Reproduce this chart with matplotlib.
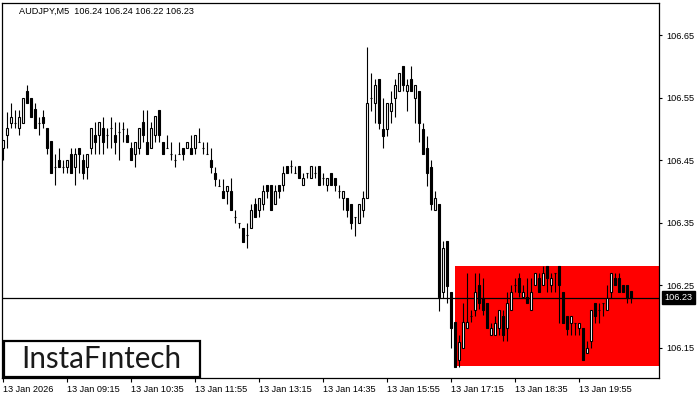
import matplotlib
matplotlib.use("Agg")
import matplotlib.pyplot as plt
from matplotlib.patches import Rectangle
import numpy as np

# ---------------- data ----------------
opens = [106.470, 106.490, 106.510, 106.510, 106.501, 106.510, 106.561, 106.550, 106.531, 106.510,
         106.519, 106.501, 106.481, 106.439, 106.450, 106.439, 106.439, 106.460, 106.439, 106.470,
         106.450, 106.439, 106.470, 106.490, 106.490, 106.501, 106.490, 106.501, 106.490, 106.495,
         106.500, 106.490, 106.470, 106.460, 106.470, 106.511, 106.479, 106.470, 106.490, 106.530,
         106.479, 106.470, 106.460, 106.450, 106.460, 106.470, 106.470, 106.470, 106.470, 106.479,
         106.470, 106.460, 106.450, 106.430, 106.409, 106.400, 106.400, 106.400, 106.359, 106.350,
         106.341, 106.330, 106.341, 106.379, 106.370, 106.379, 106.410, 106.410, 106.379, 106.410,
         106.410, 106.441, 106.441, 106.430, 106.441, 106.410, 106.430, 106.421, 106.430, 106.441,
         106.421, 106.410, 106.430, 106.421, 106.400, 106.390, 106.390, 106.380, 106.359, 106.350,
         106.370, 106.390, 106.550, 106.541, 106.580, 106.500, 106.500, 106.529, 106.550, 106.560,
         106.600, 106.560, 106.580, 106.550, 106.560, 106.500, 106.470, 106.439, 106.370, 106.380,
         106.239, 106.320, 106.239, 106.191, 106.130, 106.150, 106.181, 106.200, 106.210, 106.250,
         106.229, 106.221, 106.170, 106.170, 106.181, 106.200, 106.181, 106.210, 106.250, 106.261,
         106.231, 106.231, 106.210, 106.250, 106.261, 106.250, 106.280, 106.250, 106.270, 106.280,
         106.239, 106.200, 106.190, 106.190, 106.181, 106.181, 106.141, 106.160, 106.221, 106.210,
         106.221, 106.210, 106.239, 106.261, 106.261, 106.250, 106.250, 106.240]
highs = [106.482, 106.527, 106.541, 106.530, 106.530, 106.550, 106.570, 106.550, 106.541, 106.519,
         106.530, 106.501, 106.481, 106.460, 106.470, 106.450, 106.450, 106.470, 106.470, 106.470,
         106.460, 106.460, 106.501, 106.511, 106.511, 106.519, 106.501, 106.519, 106.511, 106.511,
         106.511, 106.501, 106.479, 106.479, 106.501, 106.530, 106.530, 106.511, 106.520, 106.530,
         106.479, 106.490, 106.479, 106.460, 106.479, 106.470, 106.479, 106.490, 106.490, 106.501,
         106.479, 106.479, 106.470, 106.439, 106.420, 106.420, 106.409, 106.421, 106.370, 106.350,
         106.341, 106.350, 106.379, 106.390, 106.390, 106.410, 106.410, 106.410, 106.410, 106.410,
         106.441, 106.441, 106.450, 106.441, 106.441, 106.430, 106.430, 106.441, 106.441, 106.441,
         106.430, 106.421, 106.430, 106.421, 106.410, 106.400, 106.390, 106.380, 106.359, 106.380,
         106.400, 106.631, 106.590, 106.580, 106.580, 106.550, 106.541, 106.560, 106.580, 106.590,
         106.600, 106.580, 106.600, 106.570, 106.560, 106.510, 106.489, 106.450, 106.400, 106.380,
         106.320, 106.320, 106.239, 106.191, 106.170, 106.221, 106.270, 106.210, 106.270, 106.270,
         106.261, 106.221, 106.190, 106.200, 106.210, 106.210, 106.239, 106.250, 106.261, 106.270,
         106.250, 106.261, 106.261, 106.270, 106.270, 106.280, 106.280, 106.270, 106.270, 106.280,
         106.239, 106.200, 106.200, 106.190, 106.190, 106.181, 106.160, 106.210, 106.221, 106.221,
         106.221, 106.250, 106.270, 106.270, 106.270, 106.250, 106.250, 106.240]
lows = [106.450, 106.470, 106.501, 106.501, 106.490, 106.510, 106.541, 106.519, 106.501, 106.490,
        106.501, 106.460, 106.430, 106.410, 106.439, 106.429, 106.429, 106.430, 106.410, 106.430,
        106.419, 106.419, 106.460, 106.460, 106.460, 106.460, 106.470, 106.470, 106.460, 106.450,
        106.479, 106.479, 106.450, 106.439, 106.460, 106.479, 106.460, 106.470, 106.479, 106.479,
        106.460, 106.470, 106.450, 106.439, 106.460, 106.450, 106.470, 106.460, 106.460, 106.479,
        106.460, 106.460, 106.430, 106.409, 106.409, 106.389, 106.379, 106.370, 106.350, 106.341,
        106.319, 106.310, 106.341, 106.359, 106.359, 106.370, 106.390, 106.370, 106.379, 106.390,
        106.400, 106.430, 106.430, 106.430, 106.421, 106.410, 106.421, 106.421, 106.421, 106.410,
        106.410, 106.400, 106.410, 106.400, 106.390, 106.370, 106.359, 106.339, 106.329, 106.350,
        106.359, 106.390, 106.529, 106.510, 106.500, 106.470, 106.489, 106.510, 106.519, 106.560,
        106.560, 106.529, 106.560, 106.510, 106.479, 106.459, 106.409, 106.370, 106.370, 106.209,
        106.230, 106.221, 106.150, 106.119, 106.119, 106.150, 106.181, 106.191, 106.200, 106.212,
        106.202, 106.181, 106.170, 106.170, 106.170, 106.160, 106.160, 106.210, 106.239, 106.231,
        106.231, 106.221, 106.210, 106.250, 106.239, 106.250, 106.239, 106.239, 106.239, 106.190,
        106.190, 106.170, 106.170, 106.170, 106.170, 106.130, 106.141, 106.150, 106.190, 106.190,
        106.200, 106.210, 106.230, 106.250, 106.239, 106.239, 106.221, 106.221]
closes = [106.482, 106.501, 106.519, 106.510, 106.519, 106.550, 106.541, 106.519, 106.501, 106.510,
          106.510, 106.470, 106.430, 106.439, 106.439, 106.439, 106.450, 106.430, 106.460, 106.460,
          106.430, 106.460, 106.501, 106.479, 106.511, 106.479, 106.490, 106.501, 106.479, 106.495,
          106.500, 106.479, 106.450, 106.479, 106.501, 106.490, 106.460, 106.501, 106.520, 106.490,
          106.460, 106.470, 106.460, 106.450, 106.460, 106.460, 106.479, 106.460, 106.490, 106.479,
          106.470, 106.460, 106.439, 106.420, 106.409, 106.389, 106.409, 106.370, 106.359, 106.350,
          106.319, 106.330, 106.370, 106.359, 106.390, 106.400, 106.400, 106.370, 106.400, 106.400,
          106.430, 106.430, 106.441, 106.430, 106.421, 106.421, 106.430, 106.441, 106.430, 106.410,
          106.421, 106.421, 106.410, 106.410, 106.400, 106.400, 106.370, 106.350, 106.359, 106.380,
          106.390, 106.541, 106.550, 106.570, 106.510, 106.489, 106.541, 106.541, 106.570, 106.590,
          106.570, 106.570, 106.560, 106.570, 106.510, 106.459, 106.430, 106.380, 106.390, 106.231,
          106.310, 106.249, 106.181, 106.119, 106.159, 106.191, 106.191, 106.200, 106.239, 106.221,
          106.210, 106.181, 106.181, 106.190, 106.210, 106.170, 106.221, 106.239, 106.250, 106.239,
          106.239, 106.221, 106.239, 106.270, 106.239, 106.270, 106.261, 106.261, 106.270, 106.250,
          106.190, 106.179, 106.200, 106.190, 106.190, 106.130, 106.150, 106.210, 106.200, 106.210,
          106.221, 106.230, 106.270, 106.250, 106.239, 106.239, 106.230, 106.230]

time_labels = ["13 Jan 2026", "13 Jan 09:15", "13 Jan 10:35", "13 Jan 11:55", "13 Jan 13:15",
               "13 Jan 14:35", "13 Jan 15:55", "13 Jan 17:15", "13 Jan 18:35", "13 Jan 19:55"]
label_bars = [0, 16, 32, 48, 64, 80, 96, 112, 128, 144]
price_ticks = [106.15, 106.25, 106.35, 106.45, 106.55, 106.65]
current_price = 106.23
zone_start_bar = 112.9
zone_low, zone_high = 106.1204, 106.2804
title = "AUDJPY,M5  106.24 106.24 106.22 106.23"
# --------------------------------------

W, H = 700, 400
fig = plt.figure(figsize=(7, 4), dpi=100)
fig.patch.set_facecolor("white")

ax_l, ax_r, ax_t, ax_b = 2.3, 659.0, 2.7, 378.0
ax = fig.add_axes([ax_l / W, 1 - ax_b / H, (ax_r - ax_l) / W, (ax_b - ax_t) / H])
ax.set_facecolor("white")

o = np.array(opens); h = np.array(highs); l = np.array(lows); c = np.array(closes)
h = np.maximum(h, np.maximum(o, c)); l = np.minimum(l, np.minimum(o, c))
x = np.arange(len(o))

# bar pixel scale: center = 3.2 + 4*i
x0_px = 3.2
ax.set_xlim((ax_l - x0_px) / 4.0, (ax_r - x0_px) / 4.0)
def ypx_to_price(ypx):
    return 106.65 - (ypx - 35.0) / 625.0
ax.set_ylim(ypx_to_price(ax_b), ypx_to_price(ax_t))

# red zone
ax.add_patch(Rectangle((zone_start_bar, zone_low), 200, zone_high - zone_low,
                       facecolor="#ff0000", edgecolor="none", zorder=1))

# current price line
ax.axhline(current_price, color="black", lw=0.9, zorder=2)

# wicks
ax.vlines(x, l, h, color="black", lw=0.8, zorder=3)
# bodies
bull = c >= o
bw = 0.62
bottoms = np.minimum(o, c)
heights = np.abs(c - o)
ax.bar(x[bull], heights[bull], bottom=bottoms[bull], width=bw, color="white",
       edgecolor="black", linewidth=0.8, zorder=4)
ax.bar(x[~bull], heights[~bull], bottom=bottoms[~bull], width=bw, color="black",
       edgecolor="black", linewidth=0.8, zorder=4)

# axes styling
for s in ax.spines.values():
    s.set_color("black"); s.set_linewidth(0.9)
ax.yaxis.tick_right()
ax.set_yticks(price_ticks)
ax.set_yticklabels([f"{p:.2f}" for p in price_ticks], fontfamily="Liberation Sans", fontsize=6.6)
ax.tick_params(axis="y", direction="out", length=2.5, width=0.8, pad=3, colors="black")
ax.set_xticks(label_bars)
ax.set_xticklabels(time_labels, fontfamily="Liberation Sans", fontsize=6.6, ha="left")
ax.tick_params(axis="x", direction="out", length=3, width=0.8, pad=2, colors="black")

# current price label
ax.annotate(f"{current_price:.2f}", xy=(1.0, current_price), xycoords=("axes fraction", "data"),
            xytext=(4, 0), textcoords="offset points", ha="left", va="center",
            fontfamily="Liberation Sans", fontsize=6.6, color="white",
            bbox=dict(boxstyle="square,pad=0.25", facecolor="black", edgecolor="black"),
            annotation_clip=False, zorder=10)

# title
fig.text(19 / W, 1 - 11.3 / H, title, ha="left", va="center",
         fontfamily="Liberation Sans", fontsize=6.6, color="black")

# logo
fig.patches.append(Rectangle((3.7 / W, 1 - 377 / H), (200 - 3.7) / W, (377 - 341) / H,
                             transform=fig.transFigure, facecolor="white",
                             edgecolor="black", linewidth=1.6, zorder=20))
logo = fig.text(101.7 / W, 1 - 359 / H, "InstaF\u0131ntech", ha="center", va="center",
                fontfamily="Lato", fontsize=19, color="#1a1a1a", zorder=21)
fig.canvas.draw()
bb = logo.get_window_extent()
logo.set_fontsize(19 * 160.0 / bb.width)

fig.savefig("out.png", dpi=100)
